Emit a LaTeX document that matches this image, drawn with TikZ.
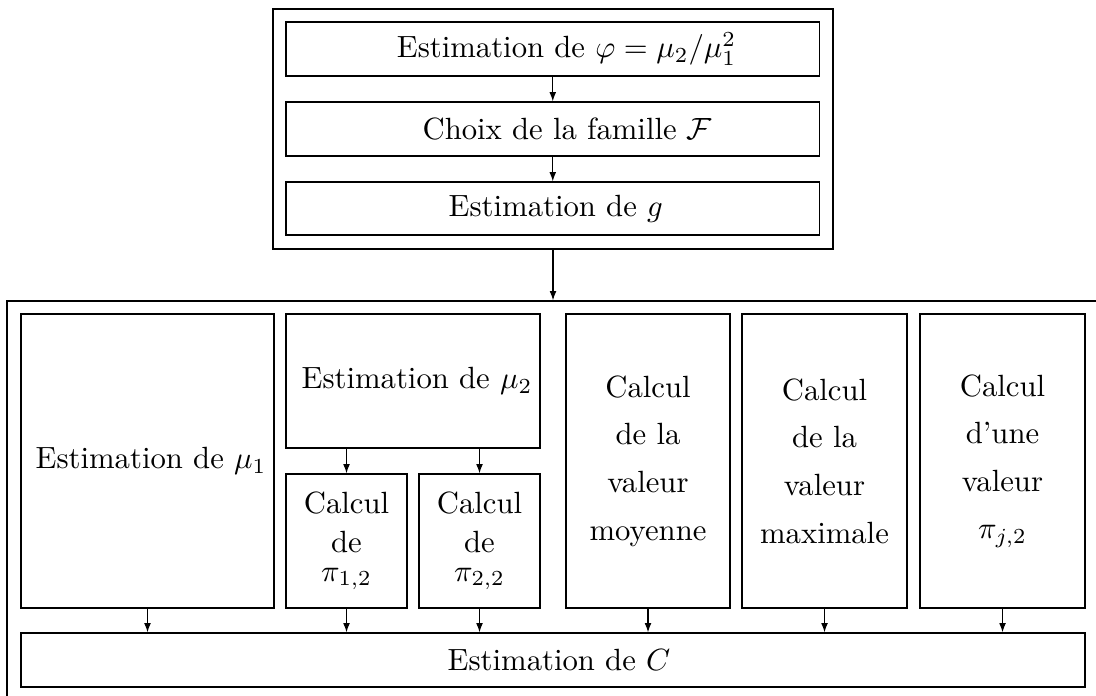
\documentclass[tikz,border=0pt]{standalone}
\usetikzlibrary{arrows.meta}
\newcommand\myrect[7]{\node[#6, minimum width={(#4-#2)*0.3257pt}, minimum height={(#5-#3)*0.3257pt}] (#1) at ({(#2+#4)/2},{(#3+#5)/2}) {#7};}
\begin{document}
\begin{tikzpicture}[x=0.3257pt,y=-0.3257pt,
  line width=0.4pt,
  box/.style={draw, inner sep=0pt, align=center},
  tall/.style={box, font=\fontsize{10}{15.5}\selectfont},
  arr/.style={-{Latex[length=3pt,width=2.2pt]}}]
\useasboundingbox (0,0) rectangle (1096,695);
% upper group
\myrect{top}{273}{9}{833}{249}{box}{}
\myrect{a1}{286}{22}{819.5}{76}{box}{\hspace*{9pt}Estimation de $\varphi=\mu_2/\mu_1^2$}
\myrect{a2}{286}{102}{819.5}{156}{box}{\hspace*{9.5pt}Choix de la famille $\mathcal{F}$}
\myrect{a3}{286}{182}{819.5}{235}{box}{\hspace*{2pt}Estimation de $g$}
\draw[arr] (a1) -- (a2);
\draw[arr] (a2) -- (a3);
% lower group
\myrect{bot}{7}{301}{1099}{701}{box}{}
\draw[arr] (top) -- (bot);
\myrect{mu1}{21}{314}{274}{608}{box}{\hspace*{2.3pt}Estimation de $\mu_1$}
\myrect{mu2}{286}{314}{540}{448}{box}{\hspace*{2.6pt}Estimation de $\mu_2$}
\myrect{p12}{286}{474}{407}{608}{box}{Calcul\\[0.7pt]de\\[-2.6pt]$\pi_{1,2}$}
\myrect{p22}{419}{474}{540}{608}{box}{Calcul\\[0.7pt]de\\[-2.6pt]$\pi_{2,2}$}
\myrect{moy}{566}{314}{730}{608}{tall}{Calcul\\de la\\valeur\\moyenne}
\myrect{max}{742}{314}{907}{608}{tall}{Calcul\\de la\\valeur\\maximale}
\myrect{pj}{920}{314}{1085}{608}{tall}{Calcul\\d'une\\valeur\\$\pi_{j,2}$}
\myrect{C}{21}{633}{1085}{687}{box}{\hspace*{3.9pt}Estimation de $C$}
\draw[arr] (mu2.south -| p12) -- (p12);
\draw[arr] (mu2.south -| p22) -- (p22);
\foreach \n in {mu1,p12,p22,moy,max,pj}
  \draw[arr] (\n) -- (\n |- C.north);
\end{tikzpicture}
\end{document}
